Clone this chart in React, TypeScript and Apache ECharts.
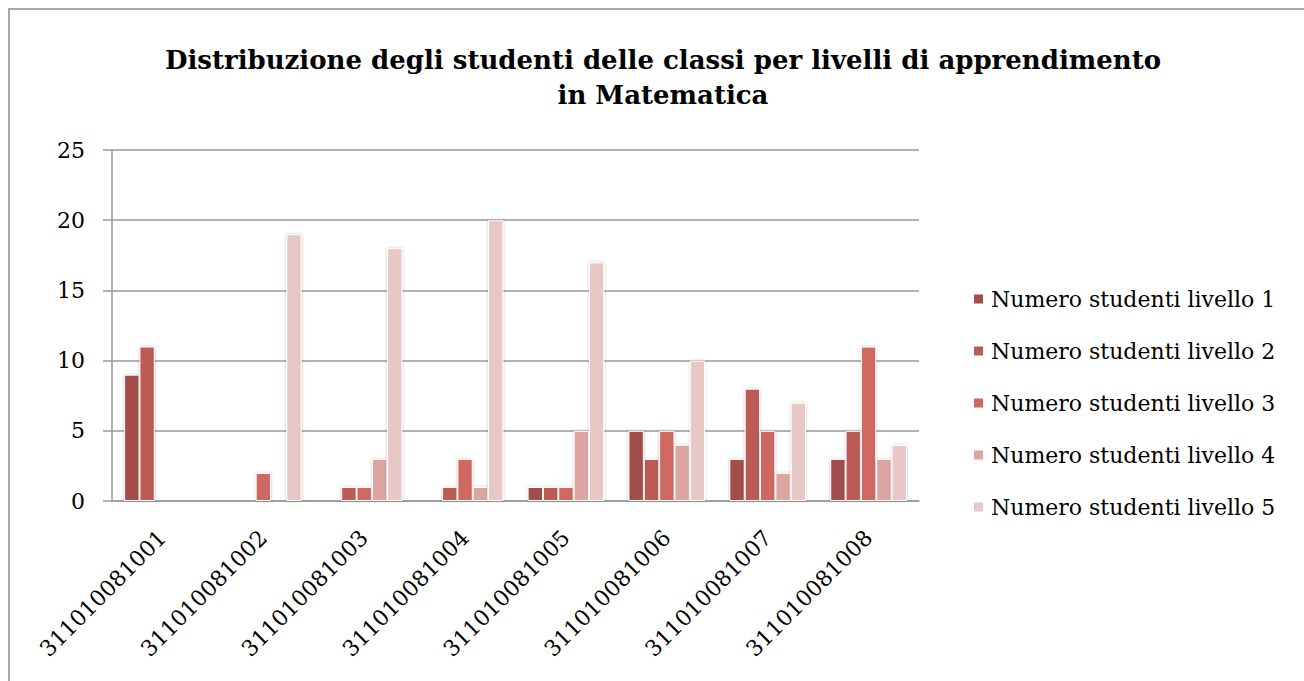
import React, { useEffect, useRef } from "react";
import * as echarts from "echarts";

const categories = [
  "311010081001",
  "311010081002",
  "311010081003",
  "311010081004",
  "311010081005",
  "311010081006",
  "311010081007",
  "311010081008",
];
const seriesNames = [
  "Numero studenti livello 1",
  "Numero studenti livello 2",
  "Numero studenti livello 3",
  "Numero studenti livello 4",
  "Numero studenti livello 5",
];
const livello1 = [9, 0, 0, 0, 1, 5, 3, 3];
const livello2 = [11, 0, 1, 1, 1, 3, 8, 5];
const livello3 = [0, 2, 1, 3, 1, 5, 5, 11];
const livello4 = [0, 0, 3, 1, 5, 4, 2, 3];
const livello5 = [0, 19, 18, 20, 17, 10, 7, 4];
const yTicks = [0, 5, 10, 15, 20, 25];
const colors = ["#A24D48", "#BC5A55", "#CF6760", "#DCA5A1", "#E8C8C7"];
const titleText =
  "Distribuzione degli studenti delle classi per livelli di apprendimento\nin Matematica";

const FONT = "'DejaVu Serif', serif";

export default function App() {
  const ref = useRef<HTMLDivElement>(null);
  useEffect(() => {
    document.documentElement.style.overflow = "hidden";
    if (!ref.current) return;
    const chart = echarts.init(ref.current, undefined, { renderer: "svg" });
    const all = [livello1, livello2, livello3, livello4, livello5];
    chart.setOption({
      animation: false,
      backgroundColor: "#ffffff",
      graphic: [
        {
          type: "text",
          x: 653,
          y: 32,
          style: {
            text: titleText,
            textAlign: "center",
            textVerticalAlign: "top",
            font: `bold 26px ${FONT}`,
            lineHeight: 35,
            fill: "#000",
          },
        },
      ],
      grid: { left: 102, top: 140, width: 807, height: 351, containLabel: false },
      legend: {
        orient: "vertical",
        left: 957,
        top: 273,
        itemWidth: 11,
        itemHeight: 11,
        itemGap: 30,
        icon: "rect",
        data: seriesNames,
        textStyle: {
          fontFamily: FONT,
          fontSize: 22,
          lineHeight: 20,
          color: "#000",
          padding: [0, 0, 0, 2],
        },
      },
      xAxis: {
        type: "category",
        data: categories,
        axisLine: { lineStyle: { color: "#999", width: 1.5 } },
        axisTick: { length: 8, lineStyle: { color: "#999", width: 1.5 } },
        axisLabel: {
          rotate: 45,
          interval: 0,
          margin: 33,
          fontFamily: FONT,
          fontSize: 22,
          color: "#000",
        },
      },
      yAxis: {
        type: "value",
        min: 0,
        max: yTicks[yTicks.length - 1],
        interval: yTicks[1] - yTicks[0],
        axisLine: { show: true, lineStyle: { color: "#999", width: 1.5 } },
        axisTick: { show: true, length: 9, lineStyle: { color: "#999", width: 1.5 } },
        splitLine: { lineStyle: { color: "#999", width: 1.5 } },
        axisLabel: {
          margin: 27,
          fontFamily: FONT,
          fontSize: 22,
          color: "#000",
        },
      },
      series: seriesNames.map((name, i) => ({
        name,
        type: "bar",
        data: all[i].map((v) => (v === 0 ? null : v)),
        barGap: "0%",
        barCategoryGap: "24%",
        itemStyle: {
          color: colors[i],
          borderColor: "#ffffff",
          borderWidth: 1,
          shadowBlur: 3,
          shadowColor: "rgba(0,0,0,0.25)",
          shadowOffsetX: 0,
          shadowOffsetY: 0,
        },
      })),
    });
    return () => chart.dispose();
  }, []);
  return (
    <div
      style={{
        position: "fixed",
        left: 0,
        top: 0,
        width: 1304,
        height: 681,
        overflow: "hidden",
        background: "#fff",
      }}
    >
      <div
        style={{
          position: "absolute",
          left: 8,
          top: 8,
          borderLeft: "2px solid #a8a8a8",
          borderTop: "2px solid #a8a8a8",
        }}
      >
        <div ref={ref} style={{ width: 1320, height: 700 }} />
      </div>
    </div>
  );
}
